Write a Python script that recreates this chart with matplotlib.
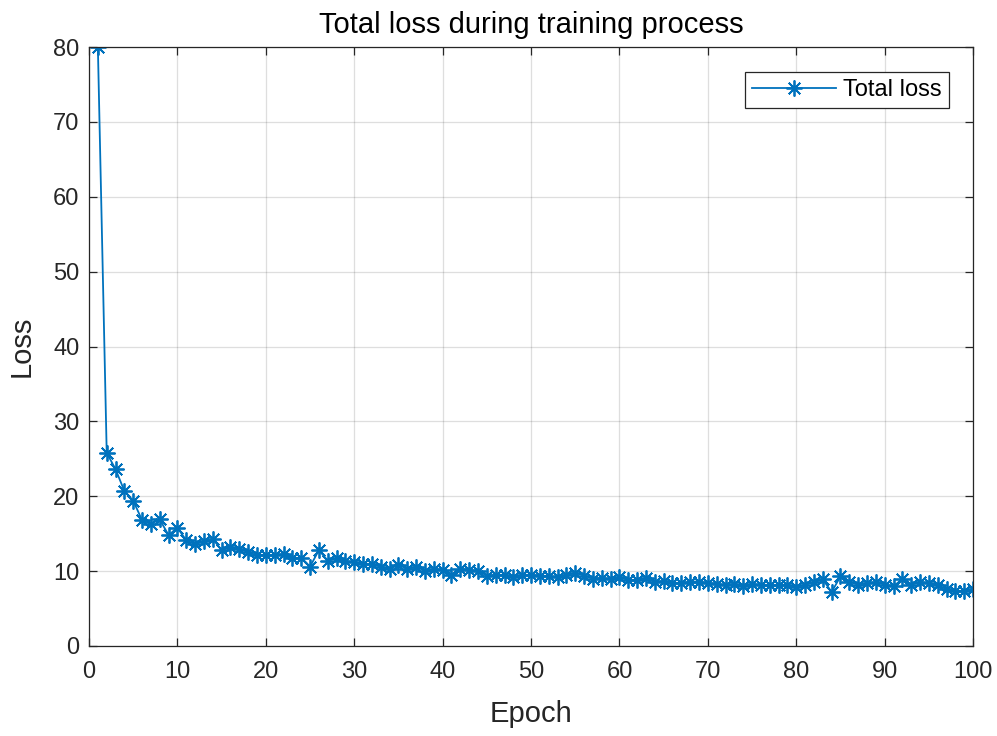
import matplotlib.pyplot as plt
import numpy as np

epochs = np.arange(1, 101)
total_loss = [
    80.0, 25.8, 23.6, 20.7, 19.4, 16.8, 16.3, 16.9, 14.8, 15.8,
    14.1, 13.6, 14.0, 14.3, 12.8, 13.2, 13.0, 12.5, 12.1, 12.2,
    12.1, 12.3, 11.7, 11.8, 10.6, 12.8, 11.4, 11.7, 11.3, 11.2,
    11.0, 10.9, 10.6, 10.3, 10.8, 10.3, 10.6, 10.0, 10.3, 10.2,
    9.5, 10.3, 10.2, 10.0, 9.4, 9.5, 9.5, 9.2, 9.5, 9.5,
    9.4, 9.3, 9.2, 9.5, 9.8, 9.4, 9.0, 9.1, 8.9, 9.2,
    8.8, 8.8, 9.1, 8.5, 8.7, 8.4, 8.4, 8.6, 8.6, 8.4,
    8.3, 8.1, 8.3, 8.0, 8.3, 8.1, 8.1, 8.1, 8.2, 7.9,
    8.2, 8.5, 8.9, 7.2, 9.3, 8.6, 8.2, 8.4, 8.5, 8.2,
    8.0, 8.9, 8.2, 8.5, 8.4, 8.1, 7.6, 7.3, 7.4, 7.6,
]

plt.rcParams['font.family'] = ['Liberation Sans', 'DejaVu Sans']

fig = plt.figure(figsize=(9.97, 7.36), dpi=100)
ax = fig.add_axes([0.0893, 0.1223, 0.8867, 0.8138])

# asterisk marker: 8 spokes, like '+' and 'x' on top of each other
ax.plot(epochs, total_loss, color='#0072BD', linewidth=1.3, marker=(8, 2, 0),
        markersize=11.5, markeredgewidth=1.3, label='Total loss')

ax.set_xlim(0, 100)
ax.set_ylim(0, 80)
ax.set_xticks(np.arange(0, 101, 10))
ax.set_yticks(np.arange(0, 81, 10))
ax.grid(True, color='#262626', alpha=0.15, linewidth=0.9)
ax.set_axisbelow(True)

ax.tick_params(direction='in', top=True, right=True, length=6,
               labelsize=17, colors='#262626', width=0.9)
ax.tick_params(axis='x', pad=11)
ax.tick_params(axis='y', pad=7)
for spine in ax.spines.values():
    spine.set_color('#262626')
    spine.set_linewidth(0.9)

ax.set_title('Total loss during training process', fontsize=21, color='#000000', pad=10)
ax.set_xlabel('Epoch', fontsize=21, color='#262626', va='center')
ax.set_ylabel('Loss', fontsize=21, color='#262626', va='center')
ax.xaxis.set_label_coords(0.5, -0.1135)
ax.yaxis.set_label_coords(-0.0758, 0.5)

leg = ax.legend(loc='upper right', fontsize=17, fancybox=False, edgecolor='#262626',
                framealpha=1, borderpad=0.3, handlelength=3.55, handletextpad=0.3,
                borderaxespad=0, bbox_to_anchor=(0.9728, 0.9583))
leg.get_frame().set_linewidth(0.9)

fig.savefig('out.png', dpi=100)
